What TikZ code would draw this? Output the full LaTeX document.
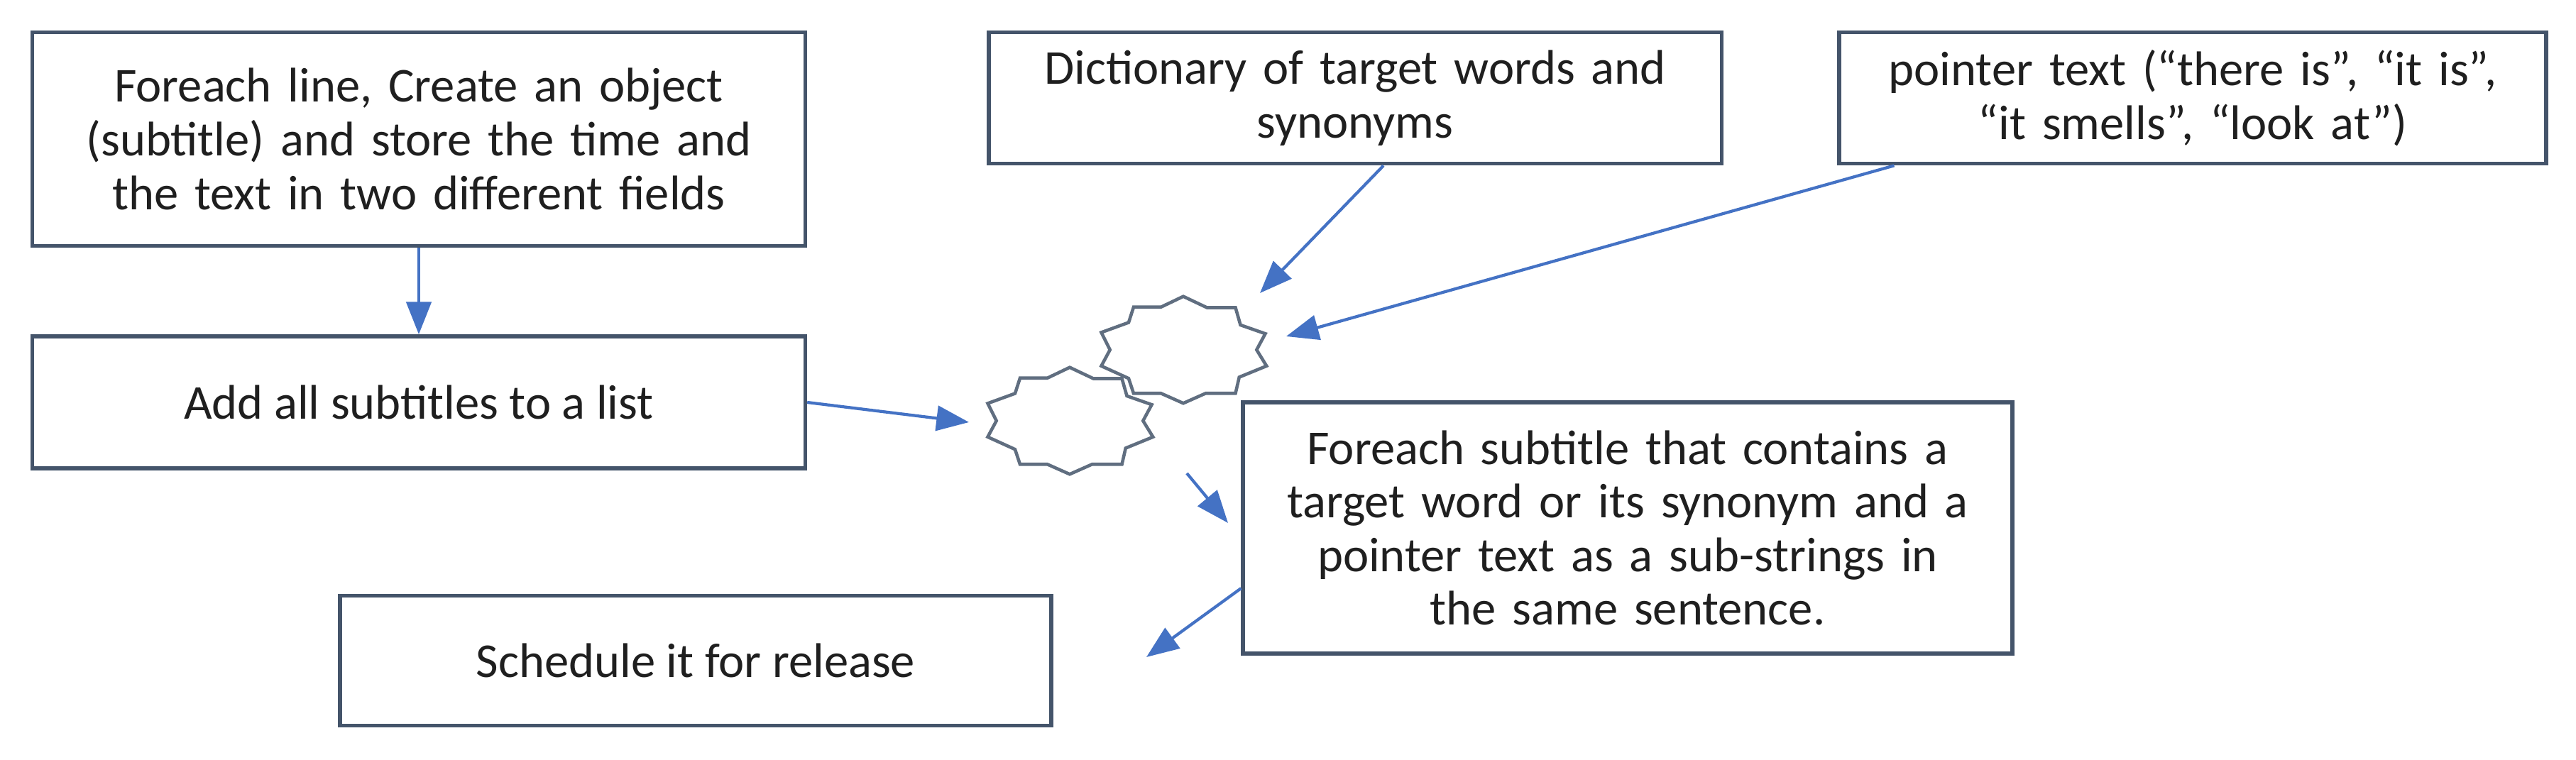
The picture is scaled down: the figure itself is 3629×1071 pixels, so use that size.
\documentclass[tikz,border=0pt]{standalone}
\usepackage{fontspec}
\setmainfont{Carlito}
\usetikzlibrary{arrows.meta}
\definecolor{bx}{HTML}{44546A}
\definecolor{ar}{HTML}{4472C4}
\tikzset{
  box/.style={draw=bx, line width=1.6pt, inner sep=0pt, align=center, font=\fontsize{19.5}{21.5}\selectfont, text=black!88},
  arr/.style={draw=ar, line width=1.2pt, -{Triangle[length=13pt,width=10pt]}},
  starline/.style={draw=bx!85, line width=1.3pt, fill=white}
}
\newcommand{\mystar}[2]{%
  \draw[starline, shift={(#1,#2)}, x=0.0105cm/3, y=-0.0105cm/3]
   (0,-215) -- (95,-170) -- (210,-170) -- (230,-100) -- (330,-65) -- (295,0) -- (335,65)
   -- (225,110) -- (210,175) -- (90,175) -- (0,215) -- (-90,175) -- (-200,175) -- (-220,115)
   -- (-330,65) -- (-295,0) -- (-330,-70) -- (-220,-110) -- (-200,-172) -- (-90,-172) -- cycle;}
\begin{document}
\begin{tikzpicture}[x=0.01cm,y=-0.01cm]
\useasboundingbox (0,0) rectangle (3629,1071);
\node[box, minimum width=10.88cm, text width=10.6cm, minimum height=3.01cm] (b1) at (590,196) {Foreach line, Create an object\\(subtitle) and store the time and\\the text in two different fields};
\node[box, minimum width=10.88cm, minimum height=1.86cm] (b2) at (590,567) {Add all subtitles to a list};
\node[box, minimum width=10.32cm, minimum height=1.85cm, text width=10cm] (dict) at (1909,138) {Dictionary of target words and\\synonyms};
\node[box, minimum width=9.95cm, minimum height=1.85cm, text width=9.8cm] (ptr) at (3089,138) {pointer text (“there is”, “it is”,\\“it smells”, “look at”)};
\node[box, minimum width=10.83cm, minimum height=3.54cm, text width=10.5cm] (fe) at (2293,744) {Foreach subtitle that contains a\\target word or its synonym and a\\pointer text as a sub-strings in\\the same sentence.};
\node[box, minimum width=10.02cm, minimum height=1.83cm] (sch) at (980,931) {Schedule it for release};
\coordinate (s1) at (1667,493);
\coordinate (s2) at (1507,593);
\mystar{1667}{493}
\mystar{1507}{593}
\coordinate (a1) at (1365,595);
\coordinate (a2) at (1775,413);
\coordinate (a3) at (1812,474);
\coordinate (a4) at (1730,737);
\coordinate (a5) at (1615,926);
\draw[arr] (b2.east) -- (a1);
\draw[arr] (b1.south) -- (b2.north);
\draw[arr] ([xshift=0.4cm]dict.south) -- (a2);
\draw[arr] ([xshift=0.8cm]ptr.south west) -- (a3);
\draw[arr] (1672,667) -- (a4);
\draw[arr] ([yshift=-0.85cm]fe.west) -- (a5);
\end{tikzpicture}
\end{document}
